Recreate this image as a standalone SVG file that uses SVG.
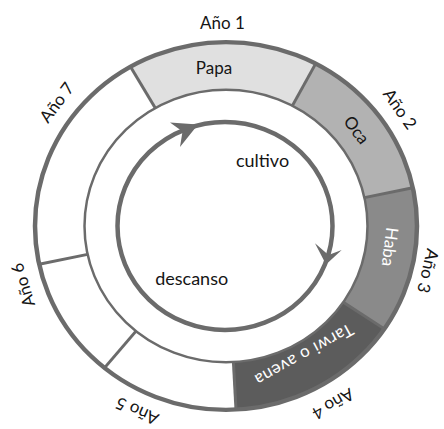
<svg xmlns="http://www.w3.org/2000/svg" width="444" height="429" viewBox="0 0 444 429">
<style>
.lbl{font-family:Lato,"Open Sans","Liberation Sans",sans-serif;font-size:17px;fill:#151515;text-anchor:middle}
.wl{fill:#ffffff}
.ring{fill:none;stroke:#6b6b6b}
.div{stroke:#6b6b6b;stroke-width:3}
</style>
<rect width="444" height="429" fill="#ffffff"/>
<g id="ring" transform="translate(226,226) scale(1,0.963)">
  <g id="seg-papa"><path d="M -95.5 -165.4 A 191 191 0 0 1 89.67 -168.64 L 66.43 -124.93 A 141.5 141.5 0 0 0 -70.75 -122.54 Z" fill="#e0e0e0"/></g>
  <g id="seg-oca"><path d="M 89.67 -168.64 A 191 191 0 0 1 186.82 -39.71 L 138.41 -29.42 A 141.5 141.5 0 0 0 66.43 -124.93 Z" fill="#b2b2b2"/></g>
  <g id="seg-haba"><path d="M 186.82 -39.71 A 191 191 0 0 1 158.34 106.81 L 117.31 79.13 A 141.5 141.5 0 0 0 138.41 -29.42 Z" fill="#8a8a8a"/></g>
  <g id="seg-tarwi"><path d="M 158.34 106.81 A 191 191 0 0 1 10.0 190.74 L 7.41 141.31 A 141.5 141.5 0 0 0 117.31 79.13 Z" fill="#5c5c5c"/></g>
  <circle class="ring" r="191" stroke-width="4.5"/>
  <circle class="ring" r="141.5" stroke-width="2.5"/>
  <g id="dividers">
    <line class="div" x1="-95.5" y1="-165.4" x2="-70.75" y2="-122.54"/>
    <line class="div" x1="89.67" y1="-168.64" x2="66.43" y2="-124.93"/>
    <line class="div" x1="186.82" y1="-39.71" x2="138.41" y2="-29.42"/>
    <line class="div" x1="158.34" y1="106.81" x2="117.31" y2="79.13" stroke="#777777"/>
    <line class="div" x1="10.0" y1="190.74" x2="7.41" y2="141.31" stroke="#808080" stroke-width="2"/>
    <line class="div" x1="-121.5" y1="147.4" x2="-90.0" y2="109.2"/>
    <line class="div" x1="-186.82" y1="39.71" x2="-138.41" y2="29.42"/>
  </g>
</g>
<g id="connectors">
  <ellipse cx="225" cy="226" rx="107.5" ry="104" fill="none" stroke="#6b6b6b" stroke-width="4.5"/>
  <path d="M 170 122.5 L 198 124.5 L 180 147 L 182.5 131.5 Z" fill="#6b6b6b"/>
  <path d="M 315 243.3 L 326 264.5 L 341.7 250 L 328.5 255 Z" fill="#6b6b6b"/>
</g>
<g id="labels-segments">
  <text class="lbl" x="214" y="74">Papa</text>
  <text class="lbl" transform="translate(356.5,130) rotate(53)" y="6">Oca</text>
  <text class="lbl wl" transform="translate(390,247) rotate(97)" y="6">Haba</text>
  <text class="lbl wl" transform="translate(304,355) rotate(151)" y="6" letter-spacing="0.6">Tarwi o avena</text>
</g>
<g id="labels-years">
  <text class="lbl" x="222.5" y="29">Año 1</text>
  <text class="lbl" transform="translate(400,109) rotate(55)" y="6">Año 2</text>
  <text class="lbl" transform="translate(428,271) rotate(103)" y="6">Año 3</text>
  <text class="lbl" transform="translate(333,404) rotate(150)" y="6">Año 4</text>
  <text class="lbl" transform="translate(137,411) rotate(204)" y="6">Año 5</text>
  <text class="lbl" transform="translate(23,285) rotate(-107)" y="6">Año 6</text>
  <text class="lbl" transform="translate(56.7,102.5) rotate(-53)" y="6">Año 7</text>
</g>
<g id="labels-cycle">
  <text class="lbl" x="262.5" y="167" style="font-size:18px">cultivo</text>
  <text class="lbl" x="191.7" y="285" style="font-size:18px">descanso</text>
</g>
</svg>
